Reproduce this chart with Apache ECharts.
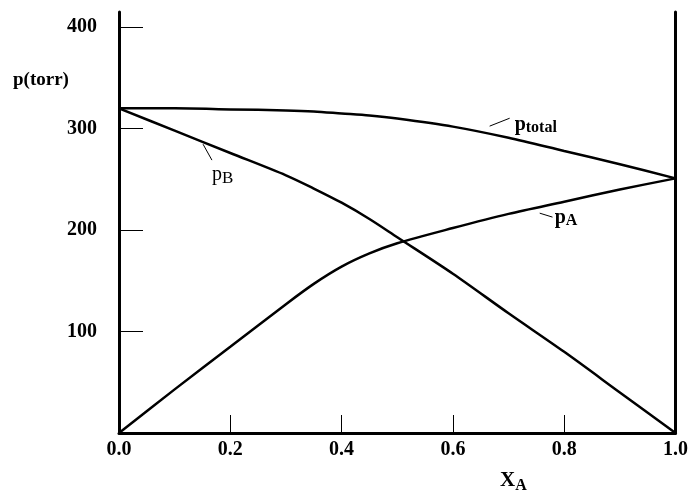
<!DOCTYPE html>
<html><head><meta charset="utf-8">
<script src="https://cdn.jsdelivr.net/npm/echarts@6/dist/echarts.min.js"></script>
<style>html,body{margin:0;padding:0;background:#fff}#c{width:691px;height:494px}</style>
</head><body><div id="c"></div>
<script>
// Vapor pressure vs mole fraction
const xA = [0, 0.1, 0.2, 0.3, 0.35, 0.4, 0.45, 0.5, 0.6, 0.7, 0.8, 0.9, 1.0];
const pTotal = [320, 320, 319, 318, 317, 315, 313, 310, 302, 291, 278, 265, 251];
const pA = [0, 43, 85, 127, 147, 164, 177, 187, 202, 216, 228, 240, 251];
const pB = [320, 298, 276, 254, 241, 227, 211, 193, 157, 118, 80, 40, 0];
const xTicks = [0, 0.2, 0.4, 0.6, 0.8, 1.0];
const yTicks = [100, 200, 300, 400];

const zip = (xs, ys) => xs.map((x, i) => [x, ys[i]]);
const FONT = '"Liberation Serif", "DejaVu Serif", serif';
const lineStyle = { color: '#000', width: 2.5 };
function leader(a, b) {
  return { silent: true, symbol: 'none', label: { show: false },
    lineStyle: { color: '#000', width: 1, type: 'solid' },
    data: [[{ coord: a }, { coord: b }]] };
}
const chart = echarts.init(document.getElementById('c'), null, { renderer: 'canvas' });
chart.setOption({
  animation: false,
  backgroundColor: '#fff',
  grid: { left: 119, right: 14, top: 12, bottom: 61, containLabel: false },
  xAxis: {
    type: 'value', min: 0, max: 1, interval: 0.2,
    axisLine: { show: true, lineStyle: { color: '#000', width: 3 } },
    axisTick: { show: true, inside: true, length: 18, lineStyle: { color: '#000', width: 1 },
      customValues: xTicks.slice(1, -1) },
    axisLabel: { fontFamily: FONT, fontWeight: 'bold', fontSize: 20, color: '#000', margin: 7,
      formatter: v => v.toFixed(1), customValues: xTicks },
    splitLine: { show: false }
  },
  yAxis: [{
    type: 'value', min: 0, max: 415,
    axisLine: { show: true, lineStyle: { color: '#000', width: 3 } },
    axisTick: { show: true, inside: true, length: 24, lineStyle: { color: '#000', width: 1 }, customValues: yTicks },
    axisLabel: { fontFamily: FONT, fontWeight: 'bold', fontSize: 20, color: '#000', margin: 22, customValues: yTicks },
    splitLine: { show: false }
  }, {
    type: 'value', min: 0, max: 415, position: 'right',
    axisLine: { show: true, lineStyle: { color: '#000', width: 3 } },
    axisTick: { show: false }, axisLabel: { show: false }, splitLine: { show: false }
  }],
  title: [
    { text: 'p(torr)', left: 8, top: 66, textStyle: { fontFamily: FONT, fontWeight: 'bold', fontSize: 19, color: '#000' } },
    { text: '{x|X}{s|A}', left: 500, top: 468, padding: 0,
      textStyle: { rich: {
        x: { fontFamily: FONT, fontSize: 21, color: '#000' },
        s: { fontFamily: FONT, fontSize: 16, color: '#000', padding: [10, 0, 0, 0] } } } }
  ],
  series: [
    { type: 'line', data: zip(xA, pTotal), smooth: 0.3, symbol: 'none', lineStyle, z: 3,
      markLine: leader([0.666, 302.5], [0.702, 310.3]) },
    { type: 'line', data: zip(xA, pA), smooth: 0.3, symbol: 'none', lineStyle, z: 3,
      markLine: leader([0.756, 216.7], [0.779, 212.8]) },
    { type: 'line', data: zip(xA, pB), smooth: 0.3, symbol: 'none', lineStyle, z: 3,
      markLine: leader([0.151, 284.7], [0.167, 269]) }
  ]
});
function placeLabels() {
  const mk = (pt, txt, rich) => {
    const p = chart.convertToPixel({ gridIndex: 0 }, pt);
    return { type: 'text', x: p[0], y: p[1], style: { text: txt, rich, verticalAlign: 'middle' } };
  };
  const richBold = {
    p: { fontFamily: FONT, fontWeight: 'bold', fontSize: 20, color: '#000' },
    s: { fontFamily: FONT, fontWeight: 'bold', fontSize: 16, color: '#000', padding: [6, 0, 0, 0] }
  };
  const richReg = {
    p: { fontFamily: FONT, fontSize: 20, color: '#000' },
    s: { fontFamily: FONT, fontSize: 17, color: '#000', padding: [8, 0, 0, 0] }
  };
  chart.setOption({ graphic: [
    mk([0.711, 304], '{p|p}{s|total}', richBold),
    mk([0.783, 212], '{p|p}{s|A}', richBold),
    mk([0.167, 255], '{p|p}{s|B}', richReg)
  ] });
}
placeLabels();
</script></body></html>
